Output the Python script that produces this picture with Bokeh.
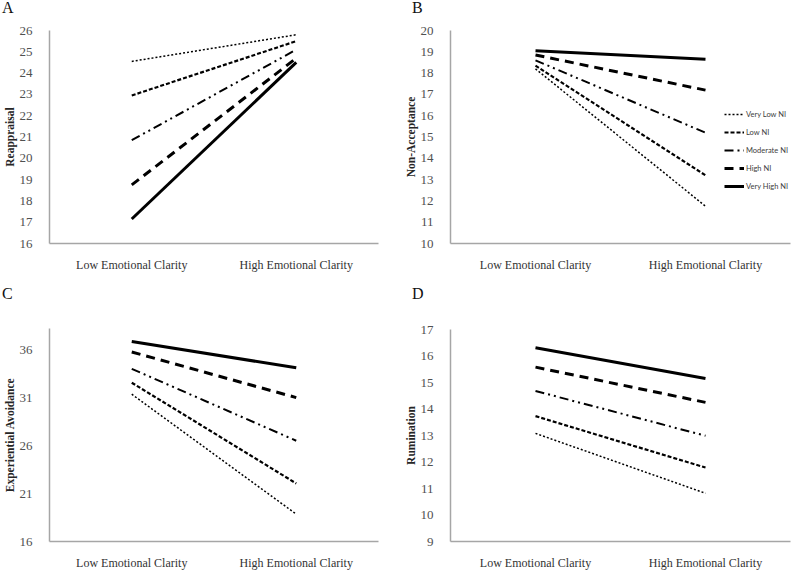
from bokeh.plotting import figure
from bokeh.models import FixedTicker, Range1d, Div
from bokeh.layouts import column, row
from bokeh.embed import file_html
from bokeh.resources import INLINE

# ---------------- data ----------------
categories = ["Low Emotional Clarity", "High Emotional Clarity"]
series_names = ["Very Low NI", "Low NI", "Moderate NI", "High NI", "Very High NI"]

# Panel A: Reappraisal
reappraisal_very_low = [24.55, 25.80]
reappraisal_low = [22.95, 25.50]
reappraisal_moderate = [20.85, 25.10]
reappraisal_high = [18.75, 24.70]
reappraisal_very_high = [17.15, 24.50]
reappraisal_ticks = [16, 17, 18, 19, 20, 21, 22, 23, 24, 25, 26]

# Panel B: Non-Acceptance
nonacceptance_very_low = [18.20, 11.75]
nonacceptance_low = [18.35, 13.20]
nonacceptance_moderate = [18.60, 15.20]
nonacceptance_high = [18.85, 17.20]
nonacceptance_very_high = [19.05, 18.65]
nonacceptance_ticks = [10, 11, 12, 13, 14, 15, 16, 17, 18, 19, 20]

# Panel C: Experiential Avoidance
avoidance_very_low = [31.35, 18.85]
avoidance_low = [32.55, 22.05]
avoidance_moderate = [34.00, 26.50]
avoidance_high = [35.75, 31.00]
avoidance_very_high = [36.85, 34.10]
avoidance_ticks = [16, 21, 26, 31, 36]

# Panel D: Rumination
rumination_very_low = [13.08, 10.82]
rumination_low = [13.73, 11.79]
rumination_moderate = [14.68, 12.99]
rumination_high = [15.58, 14.25]
rumination_very_high = [16.31, 15.15]
rumination_ticks = [9, 10, 11, 12, 13, 14, 15, 16, 17]

# ---------------- styles ----------------
DASHES = ["2 2", "4 2", "9 4 2 4 2 4", "9 6", "solid"]
WIDTHS = [1.5, 2.2, 2.0, 3.0, 3.0]
SERIF = "Liberation Serif"
LETTER_H = 16


def letter_div(letter, pad_left):
    return Div(text=letter, width=400, height=LETTER_H,
               styles={"font-family": SERIF, "font-size": "16px",
                       "line-height": "16px", "color": "#111111",
                       "padding-left": f"{pad_left}px", "margin": "0"})


def make_panel(ylabel, series, yr, ticks, borders, ylab_standoff, legend=False):
    left, right, top, bottom = borders
    p = figure(width=400, height=286 - LETTER_H, x_range=categories,
               y_range=Range1d(*yr), output_backend="svg",
               toolbar_location=None,
               min_border_left=left, min_border_right=right,
               min_border_top=top, min_border_bottom=bottom)
    p.background_fill_color = "white"
    p.border_fill_color = "white"
    p.outline_line_color = None
    p.grid.grid_line_color = None

    for vals, name, dash, w in zip(series, series_names, DASHES, WIDTHS):
        kw = dict(legend_label=name) if legend else {}
        p.line(categories, vals, line_color="black", line_width=w,
               line_dash=dash, line_cap="butt", **kw)

    ya = p.yaxis[0]
    ya.ticker = FixedTicker(ticks=ticks)
    ya.axis_label = ylabel
    ya.axis_label_text_font = SERIF
    ya.axis_label_text_font_style = "bold"
    ya.axis_label_text_font_size = "11.5px"
    ya.axis_label_text_color = "#262626"
    ya.axis_label_standoff = 1
    ya.major_label_text_font = SERIF
    ya.major_label_text_font_size = "13px"
    ya.major_label_text_color = "#505050"
    ya.major_label_standoff = ylab_standoff
    ya.axis_line_color = "#a6a6a6"
    ya.axis_line_width = 1.5
    ya.major_tick_line_color = None
    ya.minor_tick_line_color = None

    xa = p.xaxis[0]
    xa.major_label_text_font = SERIF
    xa.major_label_text_font_size = "12px"
    xa.major_label_text_color = "#333333"
    xa.major_label_standoff = 8
    xa.axis_line_color = "#a6a6a6"
    xa.axis_line_width = 1.5
    xa.major_tick_line_color = None
    xa.minor_tick_line_color = None

    if legend:
        leg = p.legend[0]
        leg.location = (274, 50)
        leg.border_line_color = None
        leg.background_fill_alpha = 0
        leg.padding = 0
        leg.margin = 0
        leg.spacing = 4
        leg.glyph_height = 14
        leg.glyph_width = 20
        leg.label_height = 14
        leg.label_standoff = 2
        leg.label_text_font = "Lato"
        leg.label_text_font_size = "7.5px"
        leg.label_text_color = "#404040"
    return p


pA = make_panel("Reappraisal",
                [reappraisal_very_low, reappraisal_low, reappraisal_moderate,
                 reappraisal_high, reappraisal_very_high],
                (16, 26), reappraisal_ticks, (41, 22, 14, 43), 11)
pB = make_panel("Non-Acceptance",
                [nonacceptance_very_low, nonacceptance_low, nonacceptance_moderate,
                 nonacceptance_high, nonacceptance_very_high],
                (10, 20), nonacceptance_ticks, (50, 10, 14, 43), 11, legend=True)
pC = make_panel("Experiential Avoidance",
                [avoidance_very_low, avoidance_low, avoidance_moderate,
                 avoidance_high, avoidance_very_high],
                (16, 38.2), avoidance_ticks, (41, 22, 26, 30), 11)
pD = make_panel("Rumination",
                [rumination_very_low, rumination_low, rumination_moderate,
                 rumination_high, rumination_very_high],
                (9, 17), rumination_ticks, (50, 10, 27, 30), 11)

layout = column(
    row(column(letter_div("A", 2), pA), column(letter_div("B", 12), pB)),
    row(column(letter_div("C", 2), pC), column(letter_div("D", 12), pD)),
)
open("out.html", "w").write(file_html(layout, INLINE))
